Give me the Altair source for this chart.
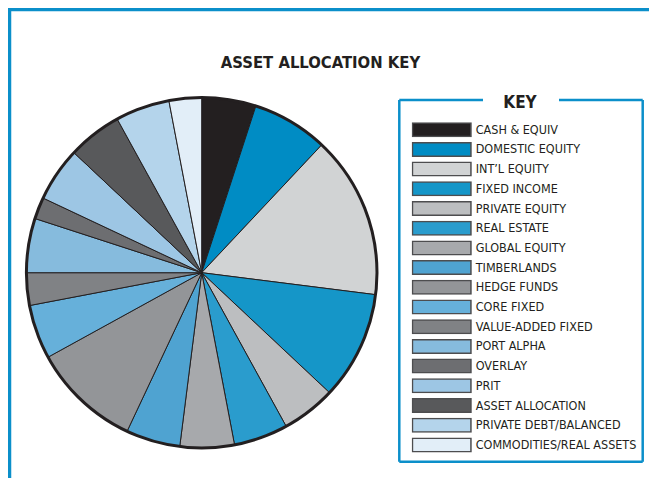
import altair as alt
import pandas as pd

categories = ["CASH & EQUIV", "DOMESTIC EQUITY", "INT\u2019L EQUITY", "FIXED INCOME",
              "PRIVATE EQUITY", "REAL ESTATE", "GLOBAL EQUITY", "TIMBERLANDS",
              "HEDGE FUNDS", "CORE FIXED", "VALUE-ADDED FIXED", "PORT ALPHA",
              "OVERLAY", "PRIT", "ASSET ALLOCATION", "PRIVATE DEBT/BALANCED",
              "COMMODITIES/REAL ASSETS"]
shares = [5, 7, 15, 10, 5, 5, 5, 5, 10, 5, 3, 5, 2, 5, 5, 5, 3]
colors = ["#231f20", "#008cc4", "#d1d3d4", "#1596c8", "#bcbec0", "#2a9ccd",
          "#a7a9ac", "#4fa3d1", "#939598", "#66b0da", "#808285", "#86bbdd",
          "#6d6e71", "#9dc6e4", "#58595b", "#b4d4eb", "#e2eef8"]
title_text = "ASSET ALLOCATION KEY"
key_text = "KEY"

FONT = "Liberation Sans Narrow, DejaVu Sans Condensed, Arial Narrow, sans-serif"
BLUE = "#0b8fca"
INK = "#231f20"

df = pd.DataFrame({"category": categories, "share": shares, "idx": list(range(len(categories)))})

CX, CY, R = 193.7, 264.7, 175.3

slices = alt.Chart(df).mark_arc(stroke=INK, strokeWidth=1, radius=R).encode(
    theta=alt.Theta("share:Q", stack=True),
    order=alt.Order("idx:Q"),
    color=alt.Color(
        "category:N",
        scale=alt.Scale(domain=categories, range=colors),
        legend=alt.Legend(
            title=None,
            orient="none",
            legendX=403.7,
            legendY=114.2,
            symbolType="M-1,-0.2308H1V0.2308H-1Z",
            symbolSize=3422,
            symbolStrokeColor="#4d4d4f",
            symbolStrokeWidth=1.5,
            symbolOpacity=1,
            labelFont=FONT,
            labelFontSize=12.5,
            labelColor=INK,
            labelOffset=4,
            labelLimit=300,
            clipHeight=15,
            rowPadding=4.7,
            padding=0,
        ),
    ),
    x=alt.value(CX),
    y=alt.value(CY),
)

one = alt.Data(values=[{"k": 1}])

ring = alt.Chart(one).mark_arc(
    theta=0, theta2=6.2832, radius=R, fillOpacity=0, stroke=INK, strokeWidth=3
).encode(x=alt.value(CX), y=alt.value(CY))

title = alt.Chart(alt.Data(values=[{"t": title_text}])).mark_text(
    font=FONT, fontSize=16.5, fontWeight="bold", color=INK, align="center", baseline="alphabetic"
).encode(text="t:N", x=alt.value(312.5), y=alt.value(60.3))

key = alt.Chart(alt.Data(values=[{"t": key_text}])).mark_text(
    font=FONT, fontSize=17, fontWeight="bold", color=INK, align="center", baseline="alphabetic"
).encode(text="t:N", x=alt.value(512), y=alt.value(100))

def hrule(x1, x2, y, w, c):
    return alt.Chart(one).mark_rule(strokeWidth=w, color=c).encode(
        x=alt.value(x1), x2=alt.value(x2), y=alt.value(y))

def vrule(x, y1, y2, w, c):
    return alt.Chart(one).mark_rule(strokeWidth=w, color=c).encode(
        x=alt.value(x), y=alt.value(y1), y2=alt.value(y2))

frame = [
    hrule(0, 660, 1.5, 3.5, BLUE),
    vrule(1.5, 0, 500, 3.5, BLUE),
]
box = [
    hrule(391.3, 475, 92, 2.5, BLUE),
    hrule(551, 634.7, 92, 2.5, BLUE),
    hrule(391.3, 634.7, 453.7, 2.5, BLUE),
    vrule(391.3, 92, 453.7, 2.5, BLUE),
    vrule(634.7, 92, 453.7, 2.5, BLUE),
]

chart = alt.layer(slices, ring, title, key, *frame, *box).properties(
    width=641, height=470, padding=0, autosize=alt.AutoSizeParams(type="none")
).configure_view(stroke=None).configure(background="white")

chart.save("out.html", embed_options={"renderer": "svg", "actions": False})
